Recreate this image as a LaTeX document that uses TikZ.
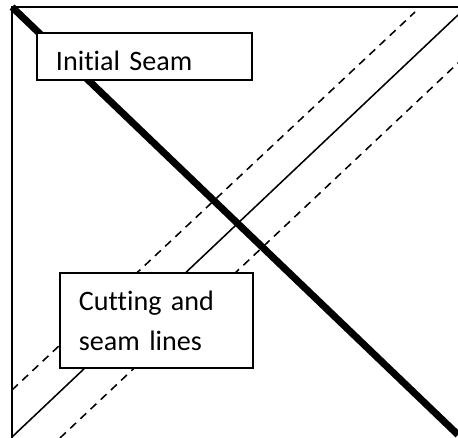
\documentclass[tikz,border=0pt]{standalone}
\usepackage{fontspec}
\setmainfont{Carlito}[Ligatures=NoCommon, WordSpace=0.8]
\usepackage{tikz}
\usetikzlibrary{positioning}

\tikzset{
    seamline/.style={line width=5pt},
    cutline/.style={line width=1.1pt},
    dashline/.style={line width=1.1pt, dash pattern=on 0.2cm off 0.15cm},
    labelbox/.style={draw, line width=1.1pt, fill=white, anchor=north west, align=left, inner xsep=0.48cm, font=\fontsize{20}{28.4}\selectfont}
}

\begin{document}
\begin{tikzpicture}
        \useasboundingbox (0, 0) rectangle (11.45, -10.95);

        % square corner
        \coordinate (tl) at (0.3, -0.175);
        \coordinate (tr) at (11.45, -0.175);
        \coordinate (bl) at (0.3, -10.95);
        \draw [line width=1.1pt] (tr) -- (tl) -- (bl);

        \coordinate (seamend) at (11.45, -10.87);
        \draw [seamline] (tl) -- (seamend);

        \coordinate (cutA) at (0.3, -10.925);
        \coordinate (cutB) at (11.45, -0.375);
        \draw [cutline] (cutA) -- (cutB);

        \coordinate (upA) at (0.3, -9.75);
        \coordinate (upB) at (10.375, -0.3);
        \draw [dashline] (upA) -- (upB);

        \coordinate (lowA) at (1.5, -10.95);
        \coordinate (lowB) at (11.45, -1.575);
        \draw [dashline] (lowA) -- (lowB);

        \node [labelbox, text width=4.415cm, minimum height=1.175cm, text height=0.7cm, text depth=0cm] (initial) at (0.9, -0.8) {Initial Seam};
        \node [labelbox, text width=3.865cm, minimum height=2.375cm, text height=0.7cm, text depth=1.175cm] (cutting) at (1.475, -6.8) {Cutting and\\seam lines};
\end{tikzpicture}
\end{document}
